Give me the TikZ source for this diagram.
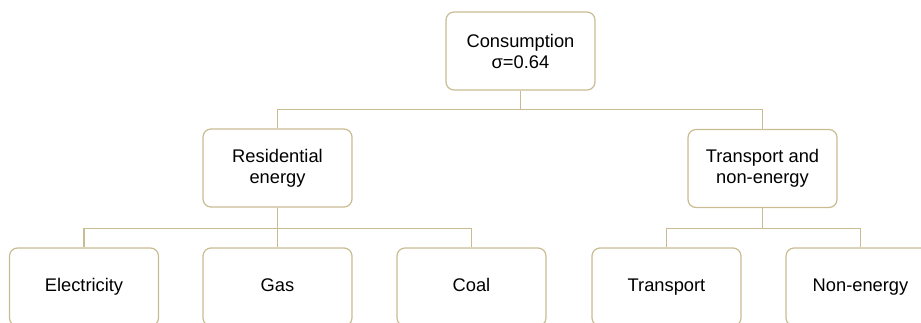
\documentclass[tikz,border=0pt]{standalone}
\usepackage{fontspec}
\setmainfont{Liberation Sans}
\usepackage{tikz}
\definecolor{boxline}{HTML}{C9BC93}
\tikzset{
  sectorbox/.style={draw=boxline, line width=1.2pt, rounded corners=8pt, fill=white,
    minimum width=149pt, minimum height=78pt, align=center, inner sep=2pt,
    font=\fontsize{18.3}{21}\selectfont},
  leafbox/.style={sectorbox, text height=13pt, text depth=4pt},
  tree/.style={draw=boxline, line width=1.2pt}
}
\begin{document}
\begin{tikzpicture}[x=1pt,y=-1pt]
\useasboundingbox (0,0) rectangle (921,322);
\node[sectorbox] (cons) at (520.5,51) {Consumption\\σ=0.64};
\node[sectorbox] (res) at (277.5,168) {Residential\\energy};
\node[sectorbox] (tne) at (762.5,168.5) {Transport and\\non-energy};
\node[leafbox] (elec) at (84,287) {Electricity};
\node[leafbox] (gas) at (277.5,287) {Gas};
\node[leafbox] (coal) at (471.5,287) {Coal};
\node[leafbox] (trans) at (666.5,287) {Transport};
\node[leafbox] (nonen) at (860.5,287) {Non-energy};
\path[tree] (cons.south) -- ++(0,19) -| (res.north);
\path[tree] (cons.south) -- ++(0,19) -| (tne.north);
\path[tree] (res.south) -- ++(0,21) -| (elec.north);
\path[tree] (res.south) -- ++(0,21) -| (gas.north);
\path[tree] (res.south) -- ++(0,21) -| (coal.north);
\path[tree] (tne.south) -- ++(0,20) -| (trans.north);
\path[tree] (tne.south) -- ++(0,20) -| (nonen.north);
\end{tikzpicture}
\end{document}
